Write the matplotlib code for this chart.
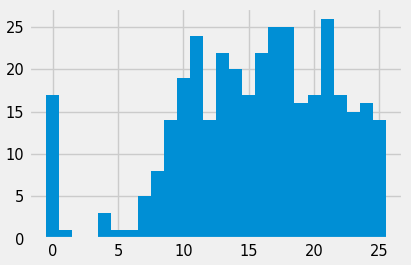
import numpy as np
import matplotlib
matplotlib.use('Agg')
import matplotlib.pyplot as plt

plt.style.use('fivethirtyeight')

values = list(range(26))
counts = [17, 1, 0, 0, 3, 1, 1, 5, 8, 14, 19, 24, 14, 22, 20,
          17, 22, 25, 25, 16, 17, 26, 17, 15, 16, 14]

fig = plt.figure(figsize=(4.11, 2.65), dpi=100)
ax = fig.add_axes([0.0706, 0.099, 0.91, 0.872])
bins = np.arange(27) - 0.5
ax.hist(values, bins=bins, weights=counts)
ax.set_xticks([0, 5, 10, 15, 20, 25])
ax.set_yticks([0, 5, 10, 15, 20, 25])
ax.tick_params(labelsize=10.5)
fig.savefig('out.png', dpi=100)
